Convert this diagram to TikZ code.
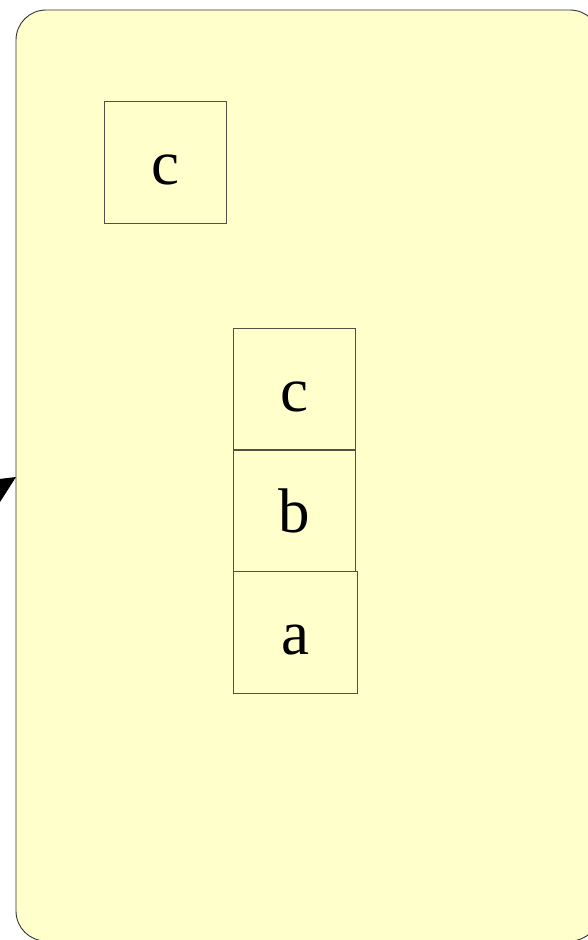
\documentclass[tikz,border=0pt]{standalone}
\usepackage{fontspec}
\setmainfont{Liberation Serif}
\usetikzlibrary{arrows.meta}
\definecolor{bgyellow}{RGB}{255,255,204}
\definecolor{edgegray}{RGB}{80,80,70}
\tikzset{
  panel/.style={draw=black!80, fill=bgyellow, line width=0.9pt, rounded corners=30pt},
  cell/.style={draw=edgegray, line width=0.9pt, minimum width=122pt, minimum height=122pt, inner sep=0pt, text height=44pt, text depth=0pt, font=\fontsize{63}{63}\selectfont, text=black},
}
\begin{document}
\begin{tikzpicture}[x=1pt,y=-1pt]
\useasboundingbox (0,0) rectangle (587,940);
\draw[panel] (16,10) rectangle (600,941);
\node[cell] (top) at (165.5,162) {c};
\node[cell] (sc) at (294,389) {c};
\node[cell] (sb) at (294.5,510.5) {b};
\node[cell, minimum width=124pt] (sa) at (295,632) {a};
\coordinate (tail) at (-35,509);
\coordinate (tip) at (16,477);
\draw[line width=1pt, -{Triangle[length=32pt,width=30pt]}] (tail) -- (tip);
\end{tikzpicture}
\end{document}
